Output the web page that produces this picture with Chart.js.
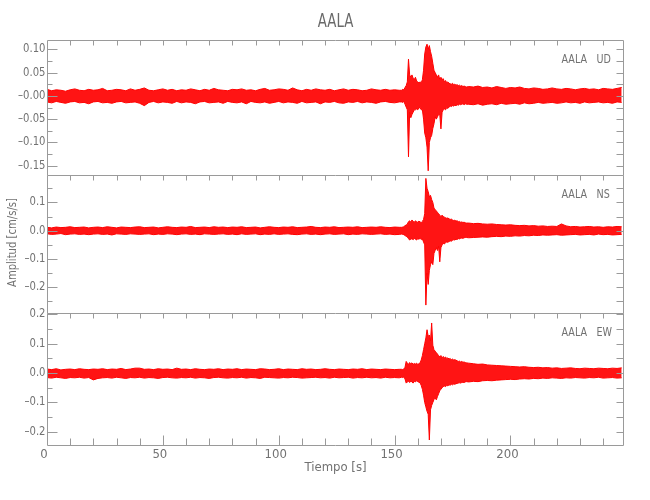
<!DOCTYPE html>
<html lang="en">
<head>
<meta charset="UTF-8">
<title>AALA</title>
<script src="https://cdn.jsdelivr.net/npm/chart.js"></script>
<style>
  body { margin: 0; background: #ffffff; }
  #wrap { width: 650px; height: 500px; }
</style>
</head>
<body>
<div id="wrap"><canvas id="seis" width="650" height="500"></canvas></div>
<script>
// sampling blocks: [start, end, step] in seconds
const sampleBlocks = [[0, 152, 2], [153, 181, 0.5], [182, 248, 2]];

// upper / lower envelope of each trace, in 1e-3 cm/s/s (one value per sample)
const udHi = [
  14, 11, 13, 12, 10, 13, 15, 12, 11, 14,
  12, 13, 16, 11, 12, 14, 13, 11, 15, 12,
  14, 17, 12, 11, 13, 15, 12, 14, 11, 13,
  12, 15, 13, 11, 14, 12, 16, 13, 12, 11,
  14, 13, 15, 12, 13, 11, 14, 16, 12, 13,
  15, 14, 12, 17, 13, 11, 14, 12, 15, 13,
  12, 14, 11, 13, 15, 12, 14, 13, 11, 12,
  15, 13, 12, 14, 12, 13, 12,
  12, 14, 13, 18, 22, 30, 79, 45, 40, 45,
  38, 35, 40, 32, 30, 28, 30, 28, 35, 55,
  90, 105, 111, 100, 108, 95, 85, 70, 55, 50,
  45, 40, 45, 35, 40, 35, 37, 30, 33, 28,
  30, 27, 26, 25, 27, 24, 25, 23, 24, 22,
  23, 21, 22, 20, 21, 20, 19,
  20, 19, 21, 18, 19, 17, 20, 18, 16, 18,
  17, 19, 16, 15, 17, 16, 14, 15, 17, 15,
  14, 16, 15, 13, 15, 16, 14, 15, 13, 16,
  15, 14, 16, 18
];
const udLo = [
  -13, -15, -12, -14, -16, -13, -12, -15, -14, -17,
  -13, -12, -15, -14, -16, -13, -12, -15, -14, -13,
  -16, -21, -14, -12, -15, -13, -14, -16, -12, -15,
  -13, -14, -17, -13, -12, -15, -14, -13, -16, -12,
  -14, -15, -13, -17, -12, -14, -15, -13, -16, -14,
  -12, -15, -13, -14, -16, -12, -15, -14, -13, -17,
  -13, -14, -12, -15, -16, -13, -14, -12, -15, -13,
  -14, -16, -13, -12, -14, -15, -13,
  -13, -14, -12, -18, -24, -30, -131, -35, -47, -40,
  -35, -30, -30, -28, -30, -26, -25, -30, -30, -50,
  -80, -90, -110, -161, -100, -90, -85, -70, -60, -45,
  -50, -45, -40, -40, -71, -35, -30, -28, -30, -25,
  -27, -24, -22, -23, -21, -22, -20, -21, -19, -20,
  -18, -19, -18, -17, -19, -17, -18,
  -18, -19, -17, -20, -18, -17, -19, -16, -18, -17,
  -16, -18, -15, -17, -16, -14, -16, -15, -14, -16,
  -15, -13, -15, -14, -16, -13, -15, -14, -13, -15,
  -14, -16, -13, -14
];
const nsHi = [
  12, 10, 13, 11, 12, 14, 11, 12, 13, 10,
  12, 13, 11, 14, 12, 10, 13, 12, 11, 13,
  14, 11, 12, 13, 10, 12, 14, 12, 11, 13,
  12, 15, 11, 12, 13, 11, 14, 12, 13, 11,
  13, 12, 14, 11, 12, 13, 10, 12, 14, 12,
  11, 13, 12, 14, 11, 12, 13, 15, 12, 11,
  13, 12, 14, 11, 12, 13, 12, 14, 11, 12,
  13, 12, 14, 12, 11, 13, 12,
  12, 13, 14, 18, 20, 24, 32, 35, 30, 38,
  33, 30, 35, 32, 30, 34, 31, 29, 33, 40,
  60, 185, 150, 138, 120, 125, 110, 100, 80, 75,
  70, 65, 60, 55, 50, 55, 50, 48, 46, 44,
  45, 42, 40, 41, 38, 36, 37, 34, 35, 32,
  33, 30, 31, 29, 30, 28, 27,
  27, 25, 26, 24, 23, 24, 22, 21, 20, 21,
  19, 18, 19, 17, 18, 16, 17, 15, 16, 15,
  24, 17, 14, 15, 13, 14, 15, 13, 14, 12,
  14, 13, 15, 14
];
const nsLo = [
  -11, -13, -12, -10, -14, -12, -11, -13, -12, -14,
  -12, -11, -13, -12, -15, -11, -12, -13, -11, -12,
  -13, -12, -11, -14, -12, -13, -11, -12, -14, -12,
  -11, -13, -12, -14, -11, -12, -13, -12, -11, -13,
  -12, -14, -11, -13, -12, -11, -14, -12, -13, -11,
  -13, -12, -11, -13, -14, -12, -11, -13, -12, -14,
  -12, -11, -13, -12, -11, -14, -12, -13, -11, -12,
  -13, -12, -11, -13, -12, -14, -13,
  -12, -13, -14, -17, -20, -22, -28, -33, -30, -28,
  -32, -27, -30, -33, -28, -30, -27, -31, -29, -40,
  -50, -263, -150, -190, -140, -120, -110, -120, -80, -70,
  -60, -70, -55, -110, -60, -50, -45, -47, -42, -40,
  -41, -38, -36, -37, -34, -32, -33, -30, -31, -28,
  -29, -27, -26, -27, -25, -24, -24,
  -25, -24, -23, -22, -23, -21, -20, -21, -19, -20,
  -18, -19, -17, -18, -16, -17, -15, -16, -15, -14,
  -16, -15, -14, -13, -15, -14, -13, -15, -12, -14,
  -13, -15, -14, -13
];
const ewHi = [
  14, 12, 15, 11, 13, 14, 12, 15, 13, 12,
  14, 13, 15, 12, 14, 13, 16, 12, 14, 17,
  17, 13, 14, 12, 15, 13, 14, 12, 17, 13,
  14, 12, 15, 13, 12, 14, 13, 15, 12, 14,
  13, 15, 12, 14, 13, 12, 15, 14, 12, 13,
  15, 12, 14, 13, 12, 15, 13, 14, 12, 13,
  15, 13, 12, 14, 13, 12, 14, 13, 15, 12,
  14, 13, 12, 14, 13, 12, 13,
  13, 12, 14, 20, 40, 34, 30, 36, 32, 35,
  30, 33, 31, 34, 30, 32, 35, 45, 60, 80,
  100, 120, 148, 125, 130, 110, 171, 95, 80, 75,
  70, 65, 60, 55, 60, 50, 57, 52, 55, 50,
  52, 48, 50, 46, 48, 45, 46, 44, 42, 40,
  41, 38, 40, 37, 38, 36, 35,
  34, 32, 30, 31, 28, 27, 26, 25, 24, 23,
  22, 21, 22, 20, 19, 20, 18, 19, 17, 18,
  16, 17, 18, 16, 15, 17, 16, 15, 17, 16,
  15, 17, 16, 18
];
const ewLo = [
  -15, -17, -14, -16, -18, -15, -16, -14, -17, -15,
  -23, -18, -16, -15, -17, -14, -16, -18, -15, -16,
  -14, -17, -15, -16, -18, -15, -14, -16, -17, -15,
  -16, -14, -17, -15, -16, -18, -15, -14, -16, -17,
  -15, -16, -14, -17, -15, -16, -18, -14, -15, -16,
  -17, -15, -16, -14, -15, -17, -16, -15, -14, -16,
  -15, -17, -14, -16, -15, -14, -17, -15, -16, -14,
  -16, -15, -17, -14, -16, -15, -16,
  -14, -15, -13, -20, -34, -30, -28, -32, -27, -30,
  -34, -28, -30, -26, -29, -31, -33, -42, -55, -75,
  -100, -115, -130, -140, -228, -125, -110, -100, -90, -85,
  -91, -80, -70, -60, -55, -50, -46, -44, -46, -42,
  -43, -40, -41, -38, -40, -37, -38, -36, -35, -34,
  -33, -34, -32, -31, -32, -30, -29,
  -30, -28, -29, -26, -25, -26, -24, -23, -22, -21,
  -22, -20, -19, -20, -18, -19, -17, -18, -16, -17,
  -18, -16, -17, -15, -16, -17, -15, -16, -14, -17,
  -16, -15, -17, -16
];

const stationName = 'AALA';
const components = ['UD', 'NS', 'EW'];
const xTicks = [0, 50, 100, 150, 200];
const udTicks = [-0.15, -0.10, -0.05, 0, 0.05, 0.10];
const udTickLabels = ['–0.15', '–0.10', '–0.05', '–0.00', '0.05', '0.10'];
const nsTicks = [-0.2, -0.1, 0, 0.1];
const nsTickLabels = ['–0.2', '–0.1', '0.0', '0.1'];
const ewTicks = [-0.2, -0.1, 0, 0.1, 0.2];
const ewTickLabels = ['–0.2', '–0.1', '0.0', '0.1', '0.2'];

const FONT = "'Liberation Sans Narrow', 'DejaVu Sans Condensed', 'Liberation Sans', sans-serif";
const TEXT = '#727272';
const AXIS = '#9a9a9a';
const MILLI = 0.001;

// sample times
const tSec = [];
sampleBlocks.forEach(([a, b, step]) => {
  for (let t = a; t <= b + 1e-9; t += step) tSec.push(Math.round(t * 10) / 10);
});

function pts(arr) {
  return tSec.map((t, i) => ({ x: t, y: arr[i] * MILLI }));
}

function traceSets(hi, lo, axisId) {
  return [
    { data: pts(hi), yAxisID: axisId, borderColor: '#ff0000', borderWidth: 1,
      pointRadius: 0, fill: false, tension: 0 },
    { data: pts(lo), yAxisID: axisId, borderColor: '#ff0000', borderWidth: 1,
      pointRadius: 0, fill: '-1', backgroundColor: 'rgba(255,0,0,0.92)', tension: 0 }
  ];
}

function yAxis(min, max, weight, ticks) {
  return {
    type: 'linear', position: 'left', stack: 'panels', stackWeight: weight,
    min: min, max: max,
    grid: { display: false, drawTicks: false },
    border: { display: false },
    afterBuildTicks: s => { s.ticks = ticks.map(v => ({ value: v })); },
    afterFit: s => { s.width = 47; },
    ticks: { display: false }
  };
}

function narrowText(ctx, text, x, y, sx) {
  ctx.save();
  ctx.translate(x, y);
  ctx.scale(sx, 1);
  ctx.fillText(text, 0, 0);
  ctx.restore();
}

// panel frames, inward tick marks, y labels and free text
const framePlugin = {
  id: 'frame',
  afterDraw(chart) {
    const ctx = chart.ctx;
    const area = chart.chartArea;
    const xs = chart.scales.x;
    const L = Math.round(area.left) + 0.5, R = Math.round(area.right) - 0.5;
    ctx.save();
    ctx.strokeStyle = AXIS;
    ctx.lineWidth = 1;
    const panels = [
      { id: 'ud', ticks: udTicks, labels: udTickLabels, minor: 0.025, comp: components[0] },
      { id: 'ns', ticks: nsTicks, labels: nsTickLabels, minor: 0.05, comp: components[1] },
      { id: 'ew', ticks: ewTicks, labels: ewTickLabels, minor: 0.05, comp: components[2] }
    ];
    panels.forEach((p, k) => {
      const ys = chart.scales[p.id];
      const T = Math.round(ys.top) + 0.5, B = Math.round(ys.bottom) + 0.5;
      ctx.beginPath();
      ctx.moveTo(L, T); ctx.lineTo(R, T);
      ctx.moveTo(L, T); ctx.lineTo(L, B);
      ctx.moveTo(R, T); ctx.lineTo(R, B);
      if (k === panels.length - 1) { ctx.moveTo(L, B); ctx.lineTo(R, B); }
      // y ticks
      const start = Math.ceil(ys.min / p.minor - 1e-6);
      for (let n = start; n * p.minor <= ys.max + 1e-9; n++) {
        const v = n * p.minor;
        const major = p.ticks.some(m => Math.abs(m - v) < 1e-6);
        const y = Math.round(ys.getPixelForValue(v)) + 0.5;
        ctx.moveTo(L, y); ctx.lineTo(L + (major ? 10 : 5), y);
        ctx.moveTo(R, y); ctx.lineTo(R - 7, y);
      }
      // x ticks along top edge (and bottom edge of last panel)
      for (let s = 10; s < xs.max; s += 10) {
        const x = Math.round(xs.getPixelForValue(s)) + 0.5;
        const major = xTicks.includes(s);
        ctx.moveTo(x, T); ctx.lineTo(x, T + 5);
        if (k === panels.length - 1) { ctx.moveTo(x, B); ctx.lineTo(x, B - (major ? 10 : 7)); }
      }
      ctx.stroke();
      ctx.fillStyle = TEXT;
      // y tick labels (whole-pixel rows keep the dash crisp)
      ctx.font = '13px ' + FONT;
      ctx.textBaseline = 'middle';
      ctx.textAlign = 'right';
      ys.ticks.forEach((tk, i) => {
        narrowText(ctx, p.labels[i], L - 2, Math.round(ys.getPixelForValue(tk.value)), 0.86);
      });
      // component label
      ctx.textAlign = 'left';
      narrowText(ctx, stationName, R - 62, ys.top + 20, 0.82);
      narrowText(ctx, p.comp, R - 27, ys.top + 20, 0.82);
    });
    const cx = (area.left + area.right) / 2;
    ctx.fillStyle = '#6a6a6a';
    ctx.textAlign = 'center';
    ctx.textBaseline = 'middle';
    ctx.font = '19px ' + FONT;
    narrowText(ctx, stationName, cx, 22, 0.78);
    ctx.fillStyle = TEXT;
    ctx.font = '13px ' + FONT;
    ctx.fillText('Tiempo [s]', cx, 468);
    ctx.translate(13, (area.top + area.bottom) / 2);
    ctx.rotate(-Math.PI / 2);
    ctx.scale(0.86, 1);
    ctx.fillText('Amplitud [cm/s/s]', 0, 0);
    ctx.restore();
  }
};

const datasets = [].concat(
  traceSets(udHi, udLo, 'ud'),
  traceSets(nsHi, nsLo, 'ns'),
  traceSets(ewHi, ewLo, 'ew')
);

new Chart(document.getElementById('seis'), {
  type: 'line',
  data: { datasets: datasets },
  options: {
    responsive: false,
    animation: false,
    normalized: true,
    layout: { padding: { top: 40, right: 26, bottom: 0, left: 0 } },
    plugins: { legend: { display: false }, tooltip: { enabled: false } },
    scales: {
      x: {
        type: 'linear', min: 0, max: 249,
        grid: { display: false, drawTicks: false },
        border: { display: false },
        afterBuildTicks: s => { s.ticks = xTicks.map(v => ({ value: v })); },
        afterFit: s => { s.height = 55; },
        ticks: {
          autoSkip: false, maxRotation: 0, padding: 2, labelOffset: -3, color: TEXT,
          font: { family: FONT, size: 13 },
          callback: v => String(v)
        }
      },
      // stacked panels: last listed ends up on top
      ew: yAxis(-0.245, 0.205, 132, ewTicks),
      ns: yAxis(-0.291, 0.197, 138, nsTicks),
      ud: yAxis(-0.17, 0.12, 135, udTicks)
    }
  },
  plugins: [framePlugin]
});
</script>
</body>
</html>
